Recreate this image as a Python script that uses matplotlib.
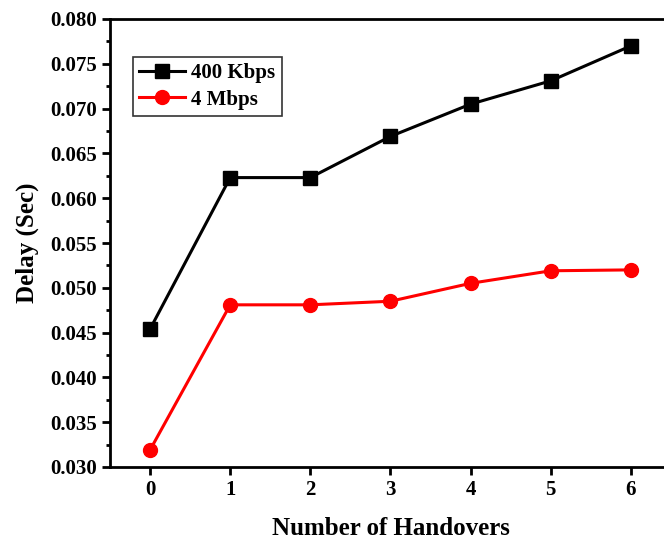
import matplotlib
matplotlib.use("Agg")
import matplotlib.pyplot as plt
from matplotlib.ticker import MultipleLocator

handovers = [0, 1, 2, 3, 4, 5, 6]
delay_400k = [0.0454, 0.0623, 0.0623, 0.0669, 0.0705, 0.0731, 0.0770]
delay_4m = [0.0319, 0.0481, 0.0481, 0.0485, 0.0505, 0.0519, 0.0520]

plt.rcParams['font.family'] = ['Liberation Serif', 'DejaVu Serif']
plt.rcParams['font.weight'] = 'bold'

fig = plt.figure(figsize=(6.64, 5.47), dpi=100)
ax = fig.add_axes([110/664, 1 - 467/547, 561/664, 448/547])

ax.plot(handovers, delay_400k, color='black', lw=2.2, marker='s', ms=10, label='400 Kbps')
ax.plot(handovers, delay_4m, color='red', lw=2.2, marker='o', ms=10, label='4 Mbps')

ax.set_xlim(-0.5, 6.5)
ax.set_ylim(0.030, 0.080)
ax.set_xticks(handovers)
ax.yaxis.set_major_locator(MultipleLocator(0.005))
ax.yaxis.set_minor_locator(MultipleLocator(0.0025))
ax.yaxis.set_major_formatter(matplotlib.ticker.FormatStrFormatter('%.3f'))

for s in ax.spines.values():
    s.set_linewidth(2)
ax.tick_params(axis='both', which='major', direction='out', width=2, length=6, labelsize=15)
ax.tick_params(axis='y', which='minor', direction='out', width=2, length=3)
ax.tick_params(top=False, right=False)

ax.set_xlabel('Number of Handovers', fontsize=18, fontweight='bold', labelpad=12)
ax.set_ylabel('Delay (Sec)', fontsize=18, fontweight='bold', labelpad=8)

leg = ax.legend(loc='upper left', bbox_to_anchor=(0.041, 0.915), borderaxespad=0,
                frameon=True, fancybox=False, edgecolor='black', handlelength=2.2,
                handletextpad=0.3, borderpad=0.3, labelspacing=0.3,
                prop={'weight': 'bold', 'size': 15})
leg.get_frame().set_linewidth(1.2)

fig.savefig('out.png', dpi=100)
